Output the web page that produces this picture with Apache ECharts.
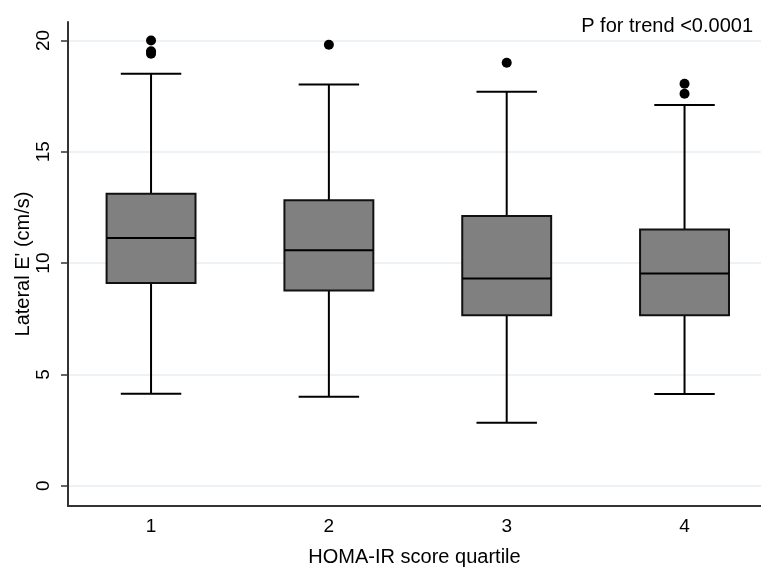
<!DOCTYPE html>
<html>
<head>
<meta charset="utf-8">
<script src="https://cdn.jsdelivr.net/npm/echarts@6/dist/echarts.min.js"></script>
<style>
  html, body { margin: 0; padding: 0; background: #fff; }
  #chart { width: 761px; height: 573px; }
</style>
</head>
<body>
<div id="chart"></div>
<script>
// quartile groups on the x axis
const quartiles = ["1", "2", "3", "4"];
// box statistics per quartile (cm/s)
const whiskerLow = [4.13, 4.0, 2.83, 4.12];
const boxLow = [9.11, 8.77, 7.66, 7.66];
const medians = [11.13, 10.58, 9.31, 9.53];
const boxHigh = [13.12, 12.82, 12.12, 11.51];
const whiskerHigh = [18.51, 18.02, 17.7, 17.1];
// outliers: [quartile, value]
const outliers = [
  [1, 20.0], [1, 19.52], [1, 19.4],
  [2, 19.81],
  [3, 19.0],
  [4, 18.06], [4, 17.61]
];
const yTicks = [0, 5, 10, 15, 20];

const chart = echarts.init(document.getElementById("chart"));

const boxData = quartiles.map((q, i) => [
  i + 1, whiskerLow[i], boxLow[i], medians[i], boxHigh[i], whiskerHigh[i]
]);

const font = "'Liberation Sans', Arial, sans-serif";

// draws one box with whiskers and caps
const renderBox = (params, api) => {
  const x = api.value(0);
  const pLow = api.coord([x, api.value(1)]);
  const pQ1 = api.coord([x, api.value(2)]);
  const pMed = api.coord([x, api.value(3)]);
  const pQ3 = api.coord([x, api.value(4)]);
  const pHigh = api.coord([x, api.value(5)]);
  const boxW = api.size([0.5, 0])[0];
  const capW = api.size([0.34, 0])[0];
  const cx = pMed[0];
  const line = { stroke: "#000", lineWidth: 2 };
  return {
    type: "group",
    children: [
      { type: "line", shape: { x1: cx, y1: pHigh[1], x2: cx, y2: pQ3[1] }, style: line },
      { type: "line", shape: { x1: cx, y1: pQ1[1], x2: cx, y2: pLow[1] }, style: line },
      { type: "line", shape: { x1: cx - capW / 2, y1: pHigh[1], x2: cx + capW / 2, y2: pHigh[1] }, style: line },
      { type: "line", shape: { x1: cx - capW / 2, y1: pLow[1], x2: cx + capW / 2, y2: pLow[1] }, style: line },
      {
        type: "rect",
        shape: { x: cx - boxW / 2, y: pQ3[1], width: boxW, height: pQ1[1] - pQ3[1] },
        style: { fill: "#808080", stroke: "#111", lineWidth: 2 }
      },
      { type: "line", shape: { x1: cx - boxW / 2, y1: pMed[1], x2: cx + boxW / 2, y2: pMed[1] }, style: line }
    ]
  };
};

const option = {
  backgroundColor: "#fff",
  animation: false,
  textStyle: { fontFamily: font },
  title: {
    text: "P for trend <0.0001",
    right: 3,
    top: 11,
    textStyle: { fontFamily: font, fontSize: 20, fontWeight: "normal", color: "#000" }
  },
  grid: { left: 68, right: 0, top: 22, bottom: 67, outerBoundsMode: "none" },
  xAxis: {
    type: "value",
    min: 0.533,
    max: 4.43,
    name: "HOMA-IR score quartile",
    nameLocation: "middle",
    nameGap: 41,
    nameMoveOverlap: false,
    nameTextStyle: { fontFamily: font, fontSize: 20, color: "#000" },
    axisLine: { show: true, onZero: false, lineStyle: { color: "#333", width: 2 } },
    axisTick: { show: false },
    splitLine: { show: false },
    axisLabel: {
      customValues: [1, 2, 3, 4],
      formatter: (v) => quartiles[Math.round(v) - 1],
      fontFamily: font,
      fontSize: 19,
      color: "#000",
      margin: 11
    }
  },
  yAxis: {
    type: "value",
    min: -0.91,
    max: 20.83,
    name: "Lateral E' (cm/s)",
    nameLocation: "middle",
    nameGap: 35,
    nameMoveOverlap: false,
    nameTextStyle: { fontFamily: font, fontSize: 20, color: "#000" },
    axisLine: { show: true, onZero: false, lineStyle: { color: "#333", width: 2 } },
    axisTick: { show: true, customValues: yTicks, length: 7, lineStyle: { color: "#333", width: 1.5 } },
    splitLine: { show: true, lineStyle: { color: "#e6eef2", width: 1.5 } },
    axisLabel: {
      customValues: yTicks,
      rotate: 90,
      fontFamily: font,
      fontSize: 19,
      color: "#000",
      margin: 15
    }
  },
  series: [
    {
      type: "custom",
      renderItem: renderBox,
      data: boxData,
      encode: { x: 0, y: [1, 2, 3, 4, 5] },
      z: 3
    },
    {
      type: "scatter",
      data: outliers,
      symbol: "circle",
      symbolSize: 10,
      itemStyle: { color: "#000", opacity: 1 },
      z: 4
    }
  ]
};

chart.setOption(option);
</script>
</body>
</html>
